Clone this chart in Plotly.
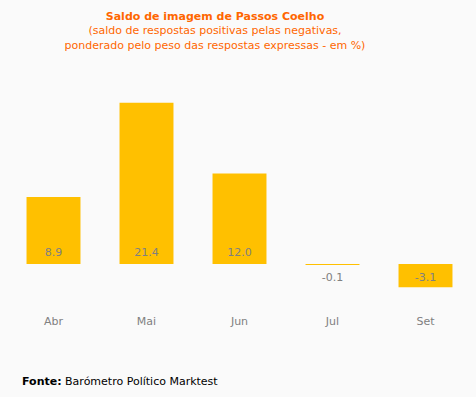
import plotly.graph_objects as go

categories = ["Abr", "Mai", "Jun", "Jul", "Set"]
values = [8.9, 21.4, 12.0, -0.1, -3.1]
value_labels = ["8.9", "21.4", "12.0", "-0.1", "-3.1"]

title_text = ("<b>Saldo de imagem de Passos Coelho</b><br>"
              "(saldo de respostas positivas pelas negativas,<br>"
              "ponderado pelo peso das respostas expressas - em %)")
source_text = "<b>Fonte:</b> Barómetro Político Marktest"

FONT = "DejaVu Sans"
BAR = "#FFC000"
GRAY = "#808080"
ORANGE = "#FF6600"
BG = "#FAFAFA"

W, H = 476, 397
L, R, T, B = 7, 4, 90, 89

fig = go.Figure()
fig.add_trace(go.Bar(
    x=categories, y=values, width=0.58,
    marker=dict(color=BAR, line=dict(width=0)),
    hoverinfo="x+y", showlegend=False,
))
fig.add_trace(go.Scatter(
    x=categories, y=[0] * len(values), mode="markers+text",
    marker=dict(size=[7 if v >= 0 else 13 for v in values], opacity=0),
    text=value_labels,
    textposition=["top center" if v >= 0 else "bottom center" for v in values],
    textfont=dict(family=FONT, size=11, color=GRAY),
    hoverinfo="skip", showlegend=False,
))

plot_h = H - T - B
plot_w = W - L - R
fig.update_layout(
    width=W, height=H,
    margin=dict(l=L, r=R, t=T, b=B),
    paper_bgcolor=BG, plot_bgcolor=BG,
    font=dict(family=FONT, size=11, color=GRAY),
    title=dict(text=title_text, x=215 / W, xanchor="center", xref="container",
               y=1 - 20 / H, yanchor="top", yref="container",
               font=dict(family=FONT, size=11, color=ORANGE)),
    xaxis=dict(showgrid=False, zeroline=False, showline=False, ticks="",
               tickfont=dict(family=FONT, size=11, color=GRAY),
               ticklabelstandoff=5, fixedrange=True),
    yaxis=dict(range=[-5.84, 23.1], visible=False, showgrid=False,
               zeroline=False, fixedrange=True),
    bargap=0.42,
    annotations=[dict(
        text=source_text, xref="paper", yref="paper",
        x=(20 - L) / plot_w, y=(H - B - 381) / plot_h,
        xanchor="left", yanchor="middle", showarrow=False,
        font=dict(family=FONT, size=11, color="#000000"),
    )],
)

fig.write_html(
    "out.html",
    config={"displayModeBar": False},
    post_script=("document.body.style.margin='0';"
                 "document.body.style.overflow='hidden';"
                 "document.body.style.background='" + BG + "';"),
)
